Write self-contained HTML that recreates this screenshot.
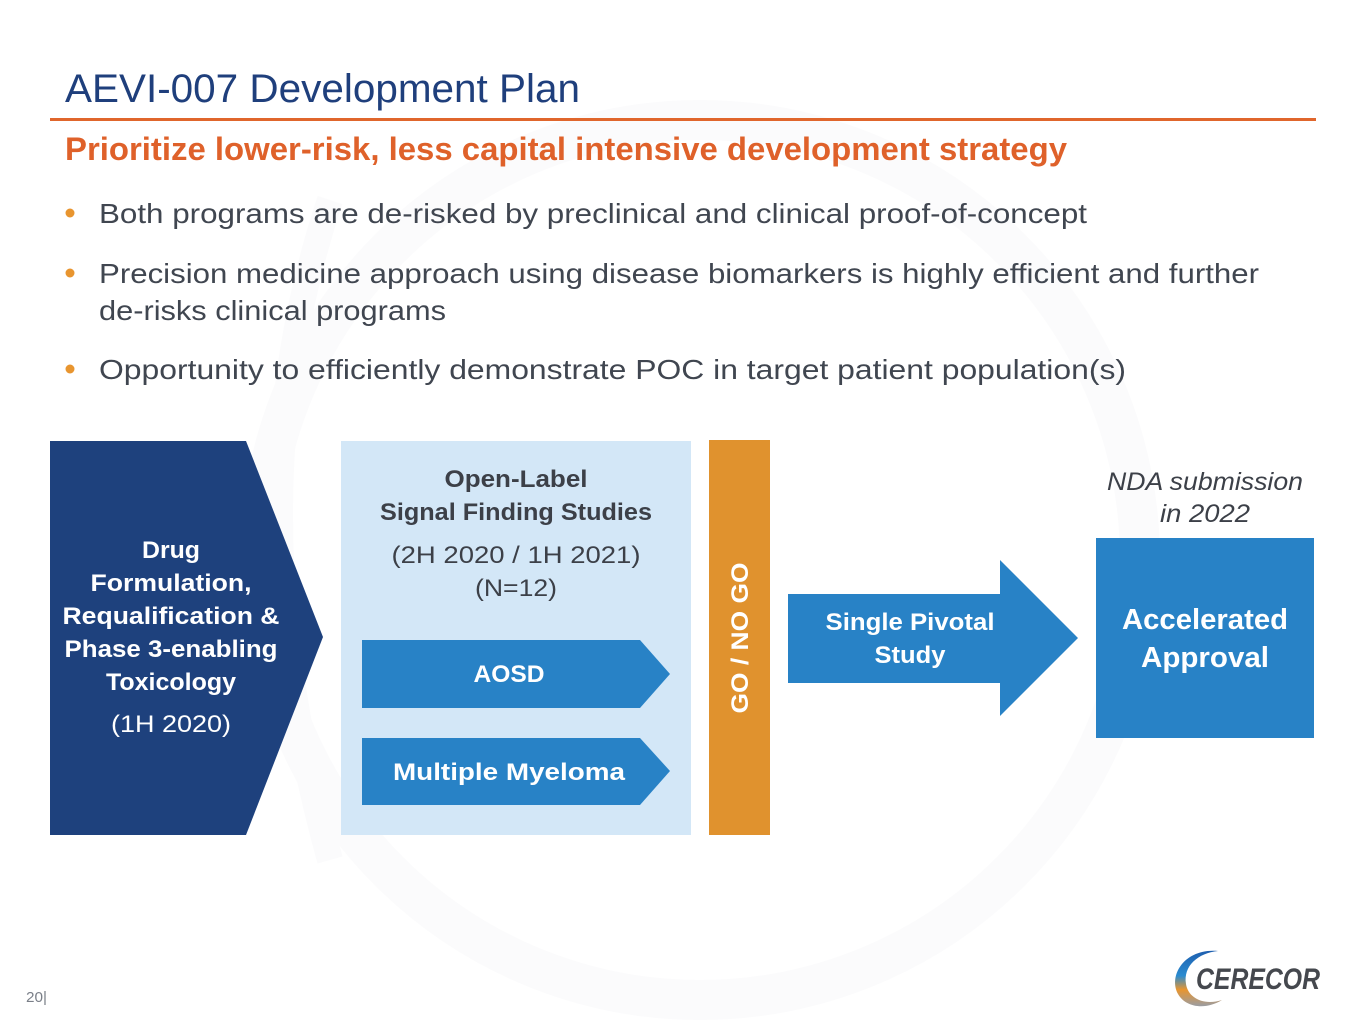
<!DOCTYPE html>
<html>
<head>
<meta charset="utf-8">
<style>
html,body{margin:0;padding:0;background:#fff;}
svg{display:block;}
text{font-family:"Liberation Sans",sans-serif;}
</style>
</head>
<body>
<svg width="1365" height="1024" viewBox="0 0 1365 1024" xmlns="http://www.w3.org/2000/svg">
  <rect width="1365" height="1024" fill="#ffffff"/>
  <!-- faint watermark ring -->
  <circle cx="700" cy="560" r="440" fill="none" stroke="#fbfbfc" stroke-width="40"/>
  <path d="M330 200 Q230 500 330 860" fill="none" stroke="#fbfbfc" stroke-width="26"/>

  <!-- Title -->
  <text x="65" y="102" font-size="40" fill="#1F3F7C" textLength="515" lengthAdjust="spacingAndGlyphs">AEVI-007 Development Plan</text>
  <rect x="50" y="118" width="1266" height="3" fill="#E0662C"/>
  <text x="65" y="160" font-size="32" font-weight="bold" fill="#DF612A" textLength="1002" lengthAdjust="spacingAndGlyphs">Prioritize lower-risk, less capital intensive development strategy</text>

  <!-- Bullets -->
  <circle cx="70" cy="213" r="4.5" fill="#E8952F"/>
  <text x="99" y="223" font-size="28" fill="#404650" textLength="988" lengthAdjust="spacingAndGlyphs">Both programs are de-risked by preclinical and clinical proof-of-concept</text>
  <circle cx="70" cy="273" r="4.5" fill="#E8952F"/>
  <text x="99" y="283" font-size="28" fill="#404650" textLength="1160" lengthAdjust="spacingAndGlyphs">Precision medicine approach using disease biomarkers is highly efficient and further</text>
  <text x="99" y="320" font-size="28" fill="#404650" textLength="347" lengthAdjust="spacingAndGlyphs">de-risks clinical programs</text>
  <circle cx="70" cy="369" r="4.5" fill="#E8952F"/>
  <text x="99" y="379" font-size="28" fill="#404650" textLength="1027" lengthAdjust="spacingAndGlyphs">Opportunity to efficiently demonstrate POC in target patient population(s)</text>

  <!-- Left pentagon -->
  <polygon points="50,441 246,441 323,637 246,835 50,835" fill="#1E417D"/>
  <g fill="#ffffff" font-weight="bold" font-size="24" text-anchor="middle">
    <text x="171" y="558" textLength="58" lengthAdjust="spacingAndGlyphs">Drug</text>
    <text x="171" y="591" textLength="161" lengthAdjust="spacingAndGlyphs">Formulation,</text>
    <text x="171" y="624" textLength="217" lengthAdjust="spacingAndGlyphs">Requalification &amp;</text>
    <text x="171" y="657" textLength="213" lengthAdjust="spacingAndGlyphs">Phase 3-enabling</text>
    <text x="171" y="690" textLength="130" lengthAdjust="spacingAndGlyphs">Toxicology</text>
  </g>
  <text x="171" y="732" font-size="24" fill="#ffffff" text-anchor="middle" textLength="120" lengthAdjust="spacingAndGlyphs">(1H 2020)</text>

  <!-- Light blue box -->
  <rect x="341" y="441" width="350" height="394" fill="#D3E7F7"/>
  <g fill="#3C4048" text-anchor="middle">
    <text x="516" y="487" font-size="24" font-weight="bold" textLength="143" lengthAdjust="spacingAndGlyphs">Open-Label</text>
    <text x="516" y="520" font-size="24" font-weight="bold" textLength="272" lengthAdjust="spacingAndGlyphs">Signal Finding Studies</text>
    <text x="516" y="563" font-size="24" textLength="249" lengthAdjust="spacingAndGlyphs">(2H 2020 / 1H 2021)</text>
    <text x="516" y="596" font-size="24" textLength="82" lengthAdjust="spacingAndGlyphs">(N=12)</text>
  </g>
  <polygon points="362,640 640,640 670,674 640,708 362,708" fill="#2882C6"/>
  <text x="509" y="682" font-size="24" font-weight="bold" fill="#ffffff" text-anchor="middle" textLength="71" lengthAdjust="spacingAndGlyphs">AOSD</text>
  <polygon points="362,738 640,738 670,771 640,805 362,805" fill="#2882C6"/>
  <text x="509" y="780" font-size="24" font-weight="bold" fill="#ffffff" text-anchor="middle" textLength="232" lengthAdjust="spacingAndGlyphs">Multiple Myeloma</text>

  <!-- Orange GO / NO GO bar -->
  <rect x="709" y="440" width="61" height="395" fill="#E0922E"/>
  <text x="0" y="0" font-size="24" font-weight="bold" fill="#ffffff" text-anchor="middle" transform="translate(748,638) rotate(-90)" textLength="151" lengthAdjust="spacingAndGlyphs">GO / NO GO</text>

  <!-- Single Pivotal arrow -->
  <polygon points="788,594 1000,594 1000,560 1078,638 1000,716 1000,683 788,683" fill="#2882C6"/>
  <text x="910" y="630" font-size="24" font-weight="bold" fill="#ffffff" text-anchor="middle" textLength="169" lengthAdjust="spacingAndGlyphs">Single Pivotal</text>
  <text x="910" y="663" font-size="24" font-weight="bold" fill="#ffffff" text-anchor="middle" textLength="71" lengthAdjust="spacingAndGlyphs">Study</text>

  <!-- NDA & Accelerated Approval -->
  <text x="1205" y="490" font-size="25" font-style="italic" fill="#3C4048" text-anchor="middle" textLength="196" lengthAdjust="spacingAndGlyphs">NDA submission</text>
  <text x="1205" y="522" font-size="25" font-style="italic" fill="#3C4048" text-anchor="middle" textLength="90" lengthAdjust="spacingAndGlyphs">in 2022</text>
  <rect x="1096" y="538" width="218" height="200" fill="#2882C6"/>
  <text x="1205" y="629" font-size="29" font-weight="bold" fill="#ffffff" text-anchor="middle" textLength="166" lengthAdjust="spacingAndGlyphs">Accelerated</text>
  <text x="1205" y="667" font-size="29" font-weight="bold" fill="#ffffff" text-anchor="middle" textLength="128" lengthAdjust="spacingAndGlyphs">Approval</text>

  <!-- Page number -->
  <text x="26" y="1002" font-size="15" fill="#7A7F88" textLength="21" lengthAdjust="spacingAndGlyphs">20|</text>

  <!-- Logo -->
  <defs>
    <linearGradient id="sw" x1="0" y1="0" x2="0" y2="1">
      <stop offset="0" stop-color="#1E5FAF"/>
      <stop offset="0.45" stop-color="#2A8BD0"/>
      <stop offset="0.7" stop-color="#E8952F"/>
      <stop offset="1" stop-color="#9A9DA3"/>
    </linearGradient>
  </defs>
  <path d="M1218 951 C1185 948 1168 975 1178 994 C1186 1008 1206 1010 1222 1000 C1204 1006 1188 998 1186 984 C1183 966 1198 953 1218 951 Z" fill="url(#sw)"/>
  <text x="1196" y="989" font-size="30" font-weight="bold" font-style="italic" fill="#45484E" textLength="124" lengthAdjust="spacingAndGlyphs">CERECOR</text>
</svg>
</body>
</html>
